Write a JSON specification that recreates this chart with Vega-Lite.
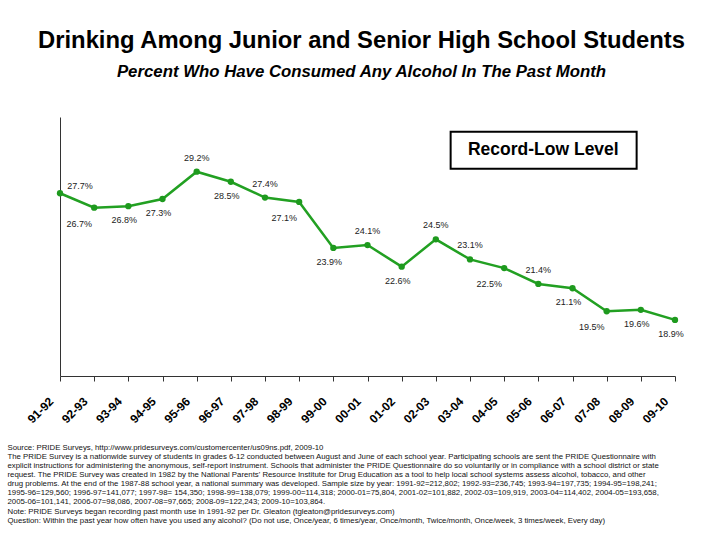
{
  "$schema": "https://vega.github.io/schema/vega-lite/v6.json",
  "autosize": {"type": "none"},
  "width": 615,
  "height": 259,
  "padding": {"left": 60, "top": 117, "right": 45, "bottom": 164},
  "background": "white",
  "config": {"view": {"stroke": null}, "font": "Liberation Sans"},
  "title": {
    "text": "Drinking Among Junior and Senior High School Students",
    "subtitle": "Percent Who Have Consumed Any Alcohol In The Past Month",
    "font": "Liberation Sans",
    "fontSize": 23.8,
    "fontWeight": "bold",
    "color": "black",
    "subtitleFont": "Liberation Sans",
    "subtitleFontSize": 16.8,
    "subtitleFontWeight": "bold",
    "subtitleFontStyle": "italic",
    "subtitleColor": "black",
    "subtitlePadding": 11,
    "anchor": "middle",
    "dx": -6,
    "offset": 36
  },
  "data": {
    "values": [
      {"season": "91-92", "pct": 0.277},
      {"season": "92-93", "pct": 0.267},
      {"season": "93-94", "pct": 0.268},
      {"season": "94-95", "pct": 0.273},
      {"season": "95-96", "pct": 0.292},
      {"season": "96-97", "pct": 0.285},
      {"season": "97-98", "pct": 0.274},
      {"season": "98-99", "pct": 0.271},
      {"season": "99-00", "pct": 0.239},
      {"season": "00-01", "pct": 0.241},
      {"season": "01-02", "pct": 0.226},
      {"season": "02-03", "pct": 0.245},
      {"season": "03-04", "pct": 0.231},
      {"season": "04-05", "pct": 0.225},
      {"season": "05-06", "pct": 0.214},
      {"season": "06-07", "pct": 0.211},
      {"season": "07-08", "pct": 0.195},
      {"season": "08-09", "pct": 0.196},
      {"season": "09-10", "pct": 0.189}
    ]
  },
  "encoding": {
    "x": {
      "field": "season",
      "type": "ordinal",
      "sort": null,
      "scale": {"type": "point", "padding": 0},
      "axis": {
        "domainColor": "#333333",
        "domainWidth": 1,
        "tickColor": "#333333",
        "tickSize": 5,
        "grid": false,
        "labelAngle": -45,
        "labelAlign": "right",
        "labelBaseline": "middle",
        "labelFont": "Liberation Sans",
        "labelFontSize": 12,
        "labelFontWeight": "bold",
        "labelColor": "black",
        "labelPadding": 18,
        "labelOffset": -9,
        "title": [
          "Source: PRIDE Surveys,  http://www.pridesurveys.com/customercenter/us09ns.pdf, 2009-10",
          "The PRIDE Survey is a nationwide survey of students in grades 6-12 conducted between August and June of each school year. Participating schools are sent the PRIDE Questionnaire with",
          "explicit instructions for administering the anonymous, self-report instrument. Schools that administer the PRIDE Questionnaire do so voluntarily or in compliance with a school district or state",
          "request. The PRIDE Survey was created in 1982 by the National Parents' Resource Institute for Drug Education as a tool to help local school systems assess alcohol, tobacco, and other",
          "drug problems. At the end of the 1987-88 school year, a national summary was developed. Sample size by year: 1991-92=212,802; 1992-93=236,745; 1993-94=197,735; 1994-95=198,241;",
          "1995-96=129,560; 1996-97=141,077; 1997-98= 154,350; 1998-99=138,079; 1999-00=114,318; 2000-01=75,804, 2001-02=101,882, 2002-03=109,919, 2003-04=114,402, 2004-05=193,658,",
          "2005-06=101,141, 2006-07=98,086, 2007-08=97,665; 2008-09=122,243; 2009-10=103,864.",
          "Note: PRIDE Surveys began recording past month use in 1991-92 per Dr. Gleaton (tgleaton@pridesurveys.com)",
          "Question: Within the past year how often have you used any alcohol?  (Do not use, Once/year, 6 times/year, Once/month, Twice/month, Once/week, 3 times/week, Every day)"
        ],
        "titleFont": "Liberation Sans",
        "titleFontSize": 7.8,
        "titleFontWeight": "normal",
        "titleColor": "#111111",
        "titleAlign": "left",
        "titleBaseline": "top",
        "titleAngle": 0,
        "titleLineHeight": 9.15,
        "titleLimit": 2000,
        "titleX": -53,
        "titleY": 67
      }
    },
    "y": {
      "field": "pct",
      "type": "quantitative",
      "scale": {"domain": [0.15, 0.33], "nice": false, "zero": false},
      "axis": {
        "title": null,
        "labels": false,
        "ticks": false,
        "grid": false,
        "domainColor": "#333333",
        "domainWidth": 1
      }
    }
  },
  "layer": [
    {"mark": {"type": "line", "color": "#22a022", "strokeWidth": 2.5}},
    {"mark": {"type": "point", "filled": true, "color": "#1e9a1e", "size": 40, "opacity": 1}},
    {
      "transform": [{"filter": {"field": "season", "oneOf": ["91-92"]}}],
      "mark": {"type": "text", "font": "Liberation Sans", "fontSize": 9, "color": "#222222", "dx": 20, "dy": -7},
      "encoding": {"text": {"field": "pct", "format": ".1%"}}
    },
    {
      "transform": [{"filter": {"field": "season", "oneOf": ["95-96", "97-98", "00-01", "02-03", "03-04", "05-06"]}}],
      "mark": {"type": "text", "font": "Liberation Sans", "fontSize": 9, "color": "#222222", "dx": 0, "dy": -14},
      "encoding": {"text": {"field": "pct", "format": ".1%"}}
    },
    {
      "transform": [{"filter": {"field": "season", "oneOf": ["93-94", "94-95", "96-97", "99-00", "01-02", "06-07", "08-09", "09-10"]}}],
      "mark": {"type": "text", "font": "Liberation Sans", "fontSize": 9, "color": "#222222", "dx": -4, "dy": 14},
      "encoding": {"text": {"field": "pct", "format": ".1%"}}
    },
    {
      "transform": [{"filter": {"field": "season", "oneOf": ["92-93", "98-99", "04-05", "07-08"]}}],
      "mark": {"type": "text", "font": "Liberation Sans", "fontSize": 9, "color": "#222222", "dx": -15, "dy": 16},
      "encoding": {"text": {"field": "pct", "format": ".1%"}}
    },
    {
      "data": {"values": [{"season": "05-06", "pct": 0.3069, "label": "Record-Low Level"}]},
      "mark": {
        "type": "point",
        "shape": "M-0.943,-0.199H1.057V0.199H-0.943Z",
        "size": 34596,
        "filled": false,
        "stroke": "black",
        "strokeWidth": 2,
        "opacity": 1
      }
    },
    {
      "data": {"values": [{"season": "05-06", "pct": 0.3069, "label": "Record-Low Level"}]},
      "mark": {
        "type": "text",
        "font": "Liberation Sans",
        "fontSize": 17.5,
        "fontWeight": "bold",
        "color": "black",
        "dx": 5
      },
      "encoding": {"text": {"field": "label"}}
    }
  ]
}
